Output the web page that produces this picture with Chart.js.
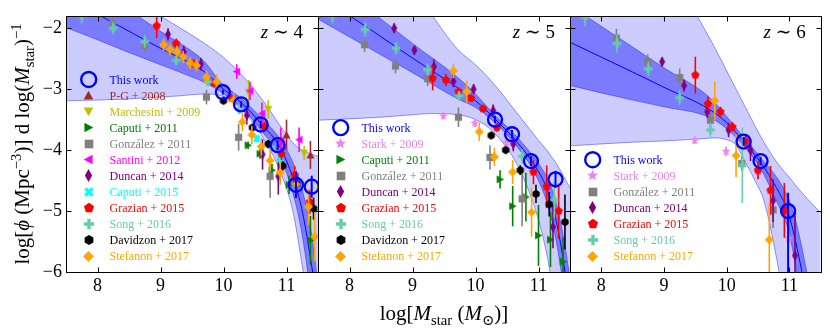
<!DOCTYPE html>
<html><head><meta charset="utf-8">
<script src="https://cdn.jsdelivr.net/npm/chart.js@4.4.1/dist/chart.umd.min.js"></script>
<style>
html,body{margin:0;padding:0;background:#fff;}
#wrap{position:relative;width:830px;height:332px;}
canvas{position:absolute;left:0;top:0;}
</style></head>
<body><div id="wrap">
<canvas id="c1" width="830" height="332"></canvas>
<canvas id="c2" width="830" height="332"></canvas>
<canvas id="c3" width="830" height="332"></canvas>
</div>
<script>
// ---------- axis ticks ----------
const massTicks = [8, 9, 10, 11];
const phiTicks = [-6, -5, -4, -3, -2];
const zLabels = ['4', '5', '6'];

// ---------- z ~ 4 : [logM, logphi, err] or [logM, logphi, errDown, errUp] ----------
const z4_thisWork = [[9.99,-3.05,0.04],[10.28,-3.25,0.05],[10.59,-3.58,0.06],[10.86,-3.92,0.08],[11.15,-4.57,0.22],[11.40,-4.60,0.18]];
const z4_pg08 = [[11.00,-3.75,0.25],[11.38,-4.08,0.23]];
const z4_march09 = [[10.40,-3.05,0.2],[10.71,-3.33,0.15],[11.28,-4.05,0.12]];
const z4_caputi11 = [[10.39,-3.92,0.06],[10.58,-4.06,0.08],[10.77,-4.33,0.1],[11.04,-4.57,0.15],[11.38,-5.48,0.4]];
const z4_gonzalez11 = [[8.24,-1.93,0.1],[8.75,-2.28,0.1],[9.73,-3.13,0.12],[10.24,-3.79,0.22],[10.74,-4.43,0.35]];
const z4_santini12 = [[10.21,-2.71,0.12],[10.42,-3.03,0.15],[10.61,-3.40,0.18],[10.91,-3.85,0.22],[11.20,-3.83,0.2]];
const z4_duncan14 = [[9.12,-2.10,0.1],[9.37,-2.39,0.1],[9.64,-2.59,0.1],[10.37,-3.43,0.15],[10.62,-4.07,0.25],[10.87,-4.43,0.3]];
const z4_caputi15 = [[10.53,-3.81,0.06],[10.90,-4.14,0.1]];
const z4_grazian15 = [[8.94,-1.96,0.2],[9.25,-2.25,0.08],[9.52,-2.58,0.06],[9.85,-2.90,0.05],[10.13,-3.15,0.05],[10.65,-3.62,0.08],[10.92,-4.06,0.1],[11.13,-4.41,0.15],[11.37,-4.85,0.2]];
const z4_song16 = [[7.75,-1.80,0.12],[8.25,-2.0,0.1],[8.75,-2.22,0.1],[9.25,-2.53,0.08],[9.75,-2.88,0.07],[10.25,-3.33,0.08],[10.75,-3.95,0.12]];
const z4_davidzon17 = [[10.0,-3.19,0.04],[10.46,-3.63,0.05],[10.71,-3.90,0.06],[10.94,-4.26,0.08],[11.16,-4.55,0.12],[11.43,-4.96,0.18]];
const z4_stefanon17 = [[9.05,-2.27,0.1],[9.15,-2.35,0.1],[9.26,-2.39,0.1],[9.36,-2.47,0.1],[9.47,-2.57,0.1],[9.57,-2.61,0.1],[9.73,-2.80,0.1],[9.89,-2.88,0.12],[10.16,-3.18,0.12],[10.30,-3.54,0.15],[10.45,-3.75,0.15],[10.60,-3.94,0.15],[10.74,-4.17,0.18],[10.90,-4.37,0.2],[11.15,-4.56,0.25],[11.35,-4.93,0.3],[11.45,-5.42,0.4]];
// fit bands z~4
const z4_lightX  = [7.5, 8.0, 8.5, 9.0, 9.3, 9.7, 10.0, 10.3, 10.6, 10.9, 11.1, 11.25, 11.35, 11.5];
const z4_lightHi = [-0.9,-1.2,-1.5,-1.8,-1.99,-2.25,-2.48,-2.78,-3.15,-3.6,-3.88,-4.0,-4.05,-4.1];
const z4_lightLo = [-3.19,-3.18,-3.16,-3.13,-3.11,-3.08,-3.12,-3.35,-3.75,-4.35,-5.0,-5.9,-6.6,-7.8];
const z4_darkX  = [7.5, 8.0, 8.5, 9.0, 9.5, 9.7, 9.95, 10.3, 10.6, 10.9, 11.1, 11.25, 11.4, 11.5];
const z4_darkHi = [-1.0,-1.35,-1.7,-2.05,-2.38,-2.55,-2.88,-3.17,-3.47,-3.82,-4.2,-4.65,-5.4,-6.2];
const z4_darkLo = [-1.99,-2.19,-2.4,-2.6,-2.8,-2.89,-3.04,-3.32,-3.68,-4.12,-4.7,-5.4,-6.5,-7.3];
const z4_fit    = [-1.5,-1.77,-2.05,-2.33,-2.59,-2.72,-2.96,-3.24,-3.57,-3.96,-4.45,-5.0,-5.9,-6.6];

// ---------- z ~ 5 ----------
const z5_thisWork = [[10.31,-3.50,0.06],[10.58,-3.74,0.07],[10.88,-4.18,0.08],[11.27,-4.48,0.14]];
const z5_stark09 = [[9.49,-3.44,0.06],[9.99,-3.56,0.06],[10.49,-3.88,0.08]];
const z5_caputi11 = [[10.39,-4.48,0.15],[10.59,-4.92,0.33],[10.80,-4.77,0.4],[11.00,-5.40,0.5],[11.19,-5.47,0.45],[11.39,-5.83,0.4]];
const z5_gonzalez11 = [[8.24,-2.27,0.12],[8.73,-2.62,0.12],[9.24,-2.83,0.12],[9.73,-3.46,0.16],[10.23,-4.12,0.2],[10.74,-4.80,0.45]];
const z5_duncan14 = [[8.71,-2.0,0.08],[9.03,-2.36,0.07],[9.34,-2.63,0.12],[9.65,-2.87,0.1],[9.97,-3.0,0.08],[10.28,-3.35,0.1],[10.6,-3.9,0.12],[11.23,-5.26,0.35]];
const z5_grazian15 = [[9.32,-2.82,0.2],[9.53,-2.85,0.1],[9.73,-3.04,0.06],[9.93,-3.15,0.05],[10.12,-3.32,0.05],[10.34,-3.63,0.07],[10.92,-4.36,0.2],[11.13,-4.60,0.35],[11.32,-5.0,0.45]];
const z5_song16 = [[7.73,-1.80,0.12],[8.25,-2.02,0.12],[8.74,-2.33,0.1],[9.24,-2.68,0.1],[9.74,-3.11,0.08],[10.74,-4.10,0.12],[11.25,-4.82,0.3]];
const z5_davidzon17 = [[10.25,-3.76,0.05],[10.48,-4.0,0.06],[10.71,-4.33,0.08],[10.96,-4.72,0.15],[11.17,-4.89,0.2],[11.42,-5.18,0.45]];
const z5_stefanon17 = [[9.65,-2.70,0.12],[9.86,-3.04,0.18],[10.06,-3.70,0.15],[10.30,-4.11,0.15],[10.59,-4.36,0.2],[10.89,-5.02,0.4]];
const z5_lightX  = [7.5, 8.5, 9.0, 9.3, 9.72, 10.0, 10.28, 10.65, 10.97, 11.13, 11.2, 11.3, 11.5];
const z5_lightHi = [0.5,-0.6,-1.3,-1.77,-2.35,-2.6,-2.9,-3.38,-3.8,-4.0,-4.1,-4.25,-4.62];
const z5_lightLo = [-3.51,-3.46,-3.42,-3.40,-3.42,-3.5,-3.70,-4.22,-5.04,-5.7,-6.1,-6.8,-8.5];
const z5_darkX  = [7.5, 8.4, 9.0, 9.72, 10.0, 10.31, 10.6, 10.9, 11.1, 11.2, 11.3, 11.4, 11.5];
const z5_darkHi = [-1.06,-1.77,-2.25,-2.81,-3.08,-3.43,-3.72,-4.08,-4.38,-4.6,-4.95,-5.45,-6.1];
const z5_darkLo = [-1.85,-2.38,-2.73,-3.16,-3.3,-3.55,-3.87,-4.3,-4.75,-5.1,-5.6,-6.3,-7.2];
const z5_fit    = [-1.45,-2.07,-2.49,-2.98,-3.19,-3.49,-3.8,-4.19,-4.55,-4.83,-5.25,-5.85,-6.6];

// ---------- z ~ 6 ----------
const z6_thisWork = [[10.27,-3.86,0.07],[10.54,-4.18,0.07],[10.98,-5.0,1.0,0.3]];
const z6_stark09 = [[9.49,-3.84,0.06],[9.99,-4.02,0.08],[10.50,-4.36,0.12],[10.99,-5.45,0.1]];
const z6_gonzalez11 = [[8.24,-2.16,0.15],[8.74,-2.55,0.12],[9.25,-2.81,0.15],[9.74,-3.51,0.12],[10.24,-4.22,0.12],[10.74,-4.98,0.3]];
const z6_duncan14 = [[8.97,-2.55,0.07],[9.32,-2.94,0.1],[9.69,-3.37,0.1],[10.03,-3.67,0.12],[10.38,-4.0,0.18],[10.74,-4.83,0.35],[11.09,-5.73,0.7]];
const z6_grazian15 = [[9.50,-2.77,0.3],[9.70,-3.24,0.12],[9.90,-3.37,0.08],[10.09,-3.62,0.08],[10.30,-3.85,0.1],[10.50,-4.33,0.15],[10.70,-4.66,0.4],[10.92,-4.99,0.45]];
const z6_song16 = [[7.74,-1.82,0.15],[8.25,-2.25,0.15],[8.75,-2.67,0.12],[9.25,-3.14,0.12],[9.74,-3.67,0.12],[10.25,-4.25,0.62]];
const z6_stefanon17 = [[9.81,-3.19,0.32],[10.15,-4.09,0.35],[10.68,-5.47,0.6]];
const z6_lightX  = [7.5, 8.5, 9.0, 9.53, 9.8, 10.0, 10.15, 10.3, 10.45, 10.6, 10.8, 11.0, 11.2, 11.5];
const z6_lightHi = [1.5, 0.0,-0.8,-1.8,-2.3,-2.7,-3.0,-3.3,-3.6,-3.88,-4.2,-4.45,-4.7,-5.03];
const z6_lightLo = [-3.93,-3.87,-3.85,-3.82,-3.8,-3.83,-3.92,-4.2,-4.5,-4.85,-5.8,-7.0,-8.0,-9.0];
const z6_darkX  = [7.5, 8.5, 9.0, 9.72, 10.0, 10.27, 10.54, 10.8, 10.98, 11.1, 11.2, 11.3, 11.5];
const z6_darkHi = [-1.63,-2.31,-2.65,-3.13,-3.45,-3.79,-4.12,-4.45,-4.78,-5.15,-5.6,-6.1,-7.0];
const z6_darkLo = [-2.94,-3.18,-3.29,-3.46,-3.65,-3.93,-4.3,-4.85,-5.3,-5.9,-6.5,-7.2,-8.5];
const z6_fit    = [-2.23,-2.72,-2.97,-3.33,-3.55,-3.86,-4.2,-4.63,-5.02,-5.5,-6.0,-6.6,-7.8];

// ---------- styles ----------
const FAM = "'Liberation Serif','DejaVu Serif',serif";
const STY = {
  thisWork:{label:'This work', color:'#0000ff'},
  pg08:{label:'P-G + 2008', color:'#a52a2a', shape:'triUp', r:4},
  march09:{label:'Marchesini + 2009', color:'#bfbf00', shape:'triDown', r:4},
  caputi11:{label:'Caputi + 2011', color:'#008000', shape:'triRight', r:4},
  gonzalez11:{label:'Gonz\u00e1lez + 2011', color:'#808080', shape:'square', r:3.6},
  santini12:{label:'Santini + 2012', color:'#ff00ff', shape:'triLeft', r:4},
  duncan14:{label:'Duncan + 2014', color:'#800080', shape:'thinDiamond', r:5.5},
  caputi15:{label:'Caputi + 2015', color:'#00ffff', shape:'xFilled', r:4.2},
  grazian15:{label:'Grazian + 2015', color:'#ff0000', shape:'pentagon', r:4.4},
  song16:{label:'Song + 2016', color:'#66cdaa', shape:'plusFilled', r:4.3},
  davidzon17:{label:'Davidzon + 2017', color:'#000000', shape:'hexagon', r:4.2},
  stefanon17:{label:'Stefanon + 2017', color:'#ffa500', shape:'diamond', r:4.6},
  stark09:{label:'Stark + 2009', color:'#ee82ee', shape:'star', r:4.8}
};

function marker(shape, color, r){
  const s = Math.ceil(2*r + 3);
  const c = document.createElement('canvas'); c.width = s; c.height = s;
  const g = c.getContext('2d'); g.translate(s/2, s/2); g.fillStyle = color; g.beginPath();
  const poly = pts => { pts.forEach((p,i)=> i? g.lineTo(p[0],p[1]) : g.moveTo(p[0],p[1])); g.closePath(); };
  const rot = (pts, a) => pts.map(p=>[p[0]*Math.cos(a)-p[1]*Math.sin(a), p[0]*Math.sin(a)+p[1]*Math.cos(a)]);
  const tri = [[0,-r],[r,r*0.85],[-r,r*0.85]];
  const t = r/3;
  const plus = [[-t,-r],[t,-r],[t,-t],[r,-t],[r,t],[t,t],[t,r],[-t,r],[-t,t],[-r,t],[-r,-t],[-t,-t]];
  switch(shape){
    case 'triUp': poly(tri); break;
    case 'triDown': poly(rot(tri, Math.PI)); break;
    case 'triRight': poly(rot(tri, Math.PI/2)); break;
    case 'triLeft': poly(rot(tri, -Math.PI/2)); break;
    case 'square': poly([[-r,-r],[r,-r],[r,r],[-r,r]]); break;
    case 'diamond': poly([[0,-r],[r,0],[0,r],[-r,0]]); break;
    case 'thinDiamond': poly([[0,-r],[r*0.55,0],[0,r],[-r*0.55,0]]); break;
    case 'pentagon': { const p=[]; for(let i=0;i<5;i++){const a=-Math.PI/2+i*2*Math.PI/5; p.push([r*Math.cos(a), r*Math.sin(a)]);} poly(p); break; }
    case 'hexagon': { const p=[]; for(let i=0;i<6;i++){const a=-Math.PI/2+i*Math.PI/3; p.push([r*Math.cos(a), r*Math.sin(a)]);} poly(p); break; }
    case 'plusFilled': poly(plus); break;
    case 'xFilled': poly(rot(plus, Math.PI/4)); break;
    case 'star': { const p=[]; for(let i=0;i<10;i++){const a=-Math.PI/2+i*Math.PI/5; const rr = i%2? r*0.42 : r; p.push([rr*Math.cos(a), rr*Math.sin(a)]);} poly(p); break; }
  }
  g.fill();
  return c;
}

function richText(ctx, segs, x, y, size, align){
  const fonts = segs.map(s => (s.it ? 'italic ' : '') + ((s.sub||s.sup) ? size*0.7 : size) + 'px ' + FAM);
  const w = segs.map((s,i)=>{ ctx.font = fonts[i]; return ctx.measureText(s.t).width; });
  const tot = w.reduce((a,b)=>a+b, 0);
  let cx = align==='center' ? x - tot/2 : align==='right' ? x - tot : x;
  ctx.textAlign = 'left'; ctx.textBaseline = 'alphabetic';
  segs.forEach((s,i)=>{ ctx.font = fonts[i]; const dy = s.sub ? size*0.22 : s.sup ? -size*0.4 : 0; ctx.fillText(s.t, cx, y+dy); cx += w[i]; });
}

const errPlugin = {
  id:'errbars',
  beforeDatasetDraw(chart, args){
    const ds = chart.data.datasets[args.index];
    if(!ds.errs) return;
    const {ctx, chartArea:a} = chart, xs = chart.scales.x, ys = chart.scales.y;
    ctx.save(); ctx.beginPath(); ctx.rect(a.left, a.top, a.right-a.left, a.bottom-a.top); ctx.clip();
    ctx.strokeStyle = ds.errColor; ctx.lineWidth = ds.errWidth;
    ds.data.forEach((p,i)=>{
      const e = ds.errs[i], px = xs.getPixelForValue(p.x);
      ctx.beginPath(); ctx.moveTo(px, ys.getPixelForValue(p.y - e[0])); ctx.lineTo(px, ys.getPixelForValue(p.y + e[1])); ctx.stroke();
    });
    ctx.restore();
  }
};

const framePlugin = {
  id:'frame',
  afterDraw(chart){
    const {ctx, chartArea:a} = chart, xs = chart.scales.x, ys = chart.scales.y;
    ctx.save(); ctx.strokeStyle = '#000'; ctx.lineWidth = 1;
    const L = Math.round(a.left)+0.5, R = Math.round(a.right)+0.5, T = Math.round(a.top)+0.5, B = Math.round(a.bottom)+0.5;
    ctx.strokeRect(L, T, R-L, B-T);
    ctx.beginPath();
    massTicks.forEach(v=>{ const px = Math.round(xs.getPixelForValue(v))+0.5; ctx.moveTo(px,B); ctx.lineTo(px,B-5); ctx.moveTo(px,T); ctx.lineTo(px,T+5); });
    phiTicks.forEach(v=>{ const py = Math.round(ys.getPixelForValue(v))+0.5; ctx.moveTo(L,py); ctx.lineTo(L+5,py); ctx.moveTo(R,py); ctx.lineTo(R-5,py); });
    ctx.stroke(); ctx.restore();
  }
};

const zip = (xs, ys) => xs.map((x,i)=>({x, y:ys[i]}));

const panels = [
  {id:'c1', left:66, right:318,
   series:[['thisWork',z4_thisWork],['pg08',z4_pg08],['march09',z4_march09],['caputi11',z4_caputi11],['gonzalez11',z4_gonzalez11],['santini12',z4_santini12],['duncan14',z4_duncan14],['caputi15',z4_caputi15],['grazian15',z4_grazian15],['song16',z4_song16],['davidzon17',z4_davidzon17],['stefanon17',z4_stefanon17]],
   light:[z4_lightX,z4_lightHi,z4_lightLo], dark:[z4_darkX,z4_darkHi,z4_darkLo], fit:z4_fit},
  {id:'c2', left:318, right:570,
   series:[['thisWork',z5_thisWork],['stark09',z5_stark09],['caputi11',z5_caputi11],['gonzalez11',z5_gonzalez11],['duncan14',z5_duncan14],['grazian15',z5_grazian15],['song16',z5_song16],['davidzon17',z5_davidzon17],['stefanon17',z5_stefanon17]],
   light:[z5_lightX,z5_lightHi,z5_lightLo], dark:[z5_darkX,z5_darkHi,z5_darkLo], fit:z5_fit},
  {id:'c3', left:570, right:822,
   series:[['thisWork',z6_thisWork],['stark09',z6_stark09],['gonzalez11',z6_gonzalez11],['duncan14',z6_duncan14],['grazian15',z6_grazian15],['song16',z6_song16],['stefanon17',z6_stefanon17]],
   light:[z6_lightX,z6_lightHi,z6_lightLo], dark:[z6_darkX,z6_darkHi,z6_darkLo], fit:z6_fit}
];

panels.forEach((p, idx)=>{
  const ds = [];
  const edge = {borderColor:'rgba(0,0,255,0.45)', borderWidth:0.9, pointRadius:0, showLine:true, cubicInterpolationMode:'monotone'};
  ds.push(Object.assign({data:zip(p.light[0],p.light[1]), fill:'+1', backgroundColor:'rgba(0,0,255,0.2)', order:30}, edge));
  ds.push(Object.assign({data:zip(p.light[0],p.light[2]), fill:false, order:29}, edge));
  ds.push(Object.assign({data:zip(p.dark[0],p.dark[1]), fill:'+1', backgroundColor:'rgba(0,0,255,0.4)', order:28}, edge));
  ds.push(Object.assign({data:zip(p.dark[0],p.dark[2]), fill:false, order:27}, edge));
  ds.push({data:zip(p.dark[0],p.fit), fill:false, borderColor:'#0000ff', borderWidth:1, pointRadius:0, showLine:true, cubicInterpolationMode:'monotone', order:26});
  const legendItems = [];
  p.series.forEach(([key, arr], k)=>{
    const st = STY[key];
    const data = arr.map(r=>({x:r[0], y:r[1]}));
    const errs = arr.map(r=>[r[2], r.length>3 ? r[3] : r[2]]);
    if(key==='thisWork'){
      ds.push({data, errs, errColor:'#0000ff', errWidth:2, showLine:false, pointStyle:'circle', pointRadius:7, pointHoverRadius:7,
        pointBorderColor:'#0000ff', pointBackgroundColor:'rgba(0,0,0,0)', pointBorderWidth:2.3, order:0});
    } else {
      ds.push({data, errs, errColor:st.color, errWidth:1.6, showLine:false, pointStyle:marker(st.shape, st.color, st.r), pointRadius:st.r, pointHoverRadius:st.r, order:20-k});
    }
    legendItems.push({key, label:st.label, color:st.color, m: key==='thisWork' ? null : marker(st.shape, st.color, st.r*1.2)});
  });

  const legendPlugin = {
    id:'panelLegend',
    afterDraw(chart){
      const {ctx, chartArea:a} = chart; ctx.save();
      const n = legendItems.length;
      legendItems.forEach((it,i)=>{
        const y = a.bottom - 16 - (n-1-i)*16.05, mx = a.left + 22.7;
        if(!it.m){ ctx.beginPath(); ctx.arc(mx, y, 7.5, 0, 2*Math.PI); ctx.strokeStyle='#0000ff'; ctx.lineWidth=2.4; ctx.stroke(); }
        else ctx.drawImage(it.m, Math.round(mx - it.m.width/2), Math.round(y - it.m.height/2));
        ctx.fillStyle = it.color; ctx.font = '12px ' + FAM; ctx.textAlign='left'; ctx.textBaseline='middle';
        ctx.fillText(it.label, a.left + 43.5, y + 1);
      });
      ctx.fillStyle = '#000';
      richText(ctx, [{t:'z', it:true}, {t:' \u223C ' + zLabels[idx]}], a.right - 15, a.top + 22, 19, 'right');
      if(idx===0){
        ctx.save(); ctx.translate(29, (a.top+a.bottom)/2); ctx.rotate(-Math.PI/2);
        richText(ctx, [{t:'log['},{t:'\u03D5', it:true},{t:' (Mpc'},{t:'\u22123', sup:true},{t:')] d log('},{t:'M', it:true},{t:'star', sub:true},{t:')'},{t:'\u22121', sup:true}], 0, 0, 21, 'center');
        ctx.restore();
      }
      if(idx===1){
        richText(ctx, [{t:'log['},{t:'M', it:true},{t:'star', sub:true},{t:' ('},{t:'M', it:true},{t:'\u2299', sub:true},{t:')]'}], (a.left+a.right)/2, 320, 21, 'center');
      }
      ctx.restore();
    }
  };

  new Chart(document.getElementById(p.id), {
    type:'line',
    data:{datasets:ds},
    plugins:[errPlugin, legendPlugin, framePlugin],
    options:{
      responsive:false, animation:false, events:[],
      layout:{padding:{left: idx===0 ? 0 : p.left, right: 830 - p.right, top:16, bottom:0}},
      plugins:{legend:{display:false}, tooltip:{enabled:false}},
      scales:{
        x:{type:'linear', min:7.5, max:11.5,
           afterBuildTicks: s => { s.ticks = massTicks.map(v=>({value:v})); },
           afterFit: s => { s.height = 60; },
           grid:{display:false, drawTicks:false}, border:{display:false},
           ticks:{color:'#000', font:{family:FAM, size:18}, padding:3, maxRotation:0, autoSkip:false}},
        y:{type:'linear', display: idx===0, min:-6, max:-1.8,
           afterBuildTicks: s => { s.ticks = phiTicks.map(v=>({value:v})); },
           afterFit: s => { s.width = idx===0 ? 66 : 0; },
           grid:{display:false, drawTicks:false}, border:{display:false},
           ticks:{color:'#000', font:{family:FAM, size:18}, padding:4,
                  callback: v => v < 0 ? '\u2212' + Math.abs(v) : String(v)}}
      }
    }
  });
});
</script>
</body></html>
